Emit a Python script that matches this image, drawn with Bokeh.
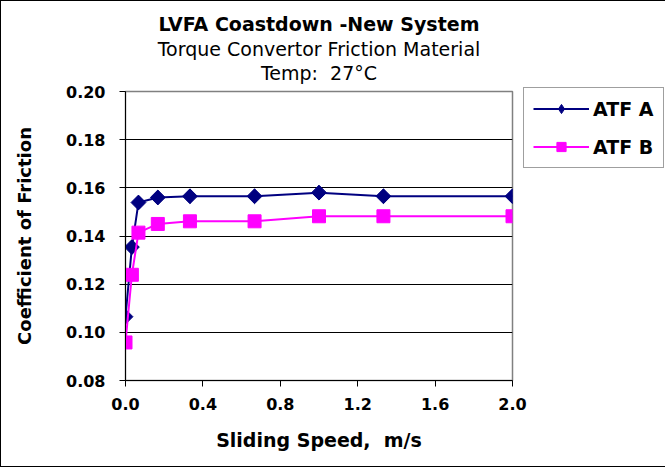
import math
from bokeh.plotting import figure
from bokeh.models import (Title, Legend, LegendItem, SingleIntervalTicker,
                          NumeralTickFormatter, Range1d)
from bokeh.embed import file_html
from bokeh.resources import INLINE

# ---- data ----
speed = [0.0, 0.033, 0.067, 0.167, 0.333, 0.667, 1.0, 1.333, 2.0]
atf_a = [0.1065, 0.1354, 0.1539, 0.1560, 0.1565, 0.1565, 0.1580, 0.1565, 0.1565]
atf_b = [0.0958, 0.1239, 0.1414, 0.1450, 0.1461, 0.1461, 0.1482, 0.1482, 0.1482]
series_names = ["ATF A", "ATF B"]
title_text = "LVFA Coastdown -New System"
subtitle_text = "Torque Convertor Friction Material"
temp_text = "Temp:\u00a0 27\u00b0C"
x_label = "Sliding Speed,\u00a0 m/s"
y_label = "Coefficient of Friction"

FONT = "DejaVu Sans"
FL, FR, FT, FB = 124, 150, 90, 86   # borders around the plot frame

p = figure(frame_width=387, frame_height=289, output_backend="svg",
           toolbar_location=None,
           x_range=Range1d(0, 2.0), y_range=Range1d(0.08, 0.20),
           min_border_left=FL, min_border_right=FR,
           min_border_top=FT, min_border_bottom=FB)
try:
    p.title = None
except Exception:
    p.title.visible = False
p.styles = {"border": "1px solid #000000", "box-sizing": "border-box"}
p.background_fill_color = "white"
p.border_fill_color = "white"
p.outline_line_color = "#808080"
p.outline_line_width = 1.5

for ax in (p.xaxis[0], p.yaxis[0]):
    ax.axis_line_color = "black"
    ax.axis_line_width = 1
    ax.major_tick_line_color = "black"
    ax.major_tick_out = 6
    ax.major_tick_in = 0
    ax.minor_tick_line_color = None
    ax.major_label_text_font = FONT
    ax.major_label_text_font_style = "bold"
    ax.major_label_text_font_size = "16px"
    ax.major_label_text_color = "black"
    ax.axis_label_text_font = FONT
    ax.axis_label_text_font_style = "bold"
    ax.axis_label_text_color = "black"

p.xaxis.axis_label_text_font_size = "19px"
p.yaxis.axis_label_text_font_size = "18px"
p.xaxis.ticker = SingleIntervalTicker(interval=0.4, num_minor_ticks=0)
p.yaxis.ticker = SingleIntervalTicker(interval=0.02, num_minor_ticks=0)
p.xaxis.formatter = NumeralTickFormatter(format="0.0")
p.yaxis.formatter = NumeralTickFormatter(format="0.00")
p.xaxis.major_label_standoff = 11
p.yaxis.major_label_standoff = 14
p.xaxis.axis_label = x_label
p.yaxis.axis_label = y_label
p.xaxis.axis_label_standoff = 16
p.yaxis.axis_label_standoff = 28

p.xgrid.grid_line_color = None
p.ygrid.grid_line_color = "black"
p.ygrid.grid_line_width = 1
p.ygrid.ticker = SingleIntervalTicker(interval=0.02, num_minor_ticks=0)

# series
la = p.line(speed, atf_a, line_color="#000080", line_width=2)
ma = p.scatter(speed, atf_a, marker="square", angle=math.pi / 4, size=10.5,
               fill_color="#000080", line_color="#000080")
md = p.scatter(speed, atf_a, marker="diamond", size=14,
               fill_color="#000080", line_color="#000080")
lb = p.line(speed, atf_b, line_color="#FF00FF", line_width=2)
mb = p.scatter(speed, atf_b, marker="square", size=13, fill_color="#FF00FF",
               line_color="#FF00FF")

legend = Legend(items=[LegendItem(label=series_names[0], renderers=[la, md]),
                       LegendItem(label=series_names[1], renderers=[lb, mb])],
                location=(11, 212))
legend.label_text_font = FONT
legend.label_text_font_style = "bold"
legend.label_text_font_size = "19px"
legend.label_text_color = "black"
legend.glyph_width = 56
legend.glyph_height = 23
legend.label_height = 23
legend.label_standoff = 4
legend.spacing = 15
legend.padding = 9
legend.margin = 0
legend.border_line_color = "#404040"
legend.border_line_width = 1.2
legend.background_fill_color = "white"
p.add_layout(legend, "right")

# titles, stacked upward from the plot frame (first = closest to the frame)
p.add_layout(Title(text="\u00a0", text_font_size="5px", standoff=0), "above")
for txt, style, standoff in [(temp_text, "normal", 0),
                             (subtitle_text, "normal", 0),
                             (title_text, "bold", 2)]:
    p.add_layout(Title(text=txt, align="center", text_font=FONT,
                       text_font_style=style, text_font_size="19px",
                       text_color="black", standoff=standoff), "above")

open("out.html", "w").write(file_html(p, INLINE))
